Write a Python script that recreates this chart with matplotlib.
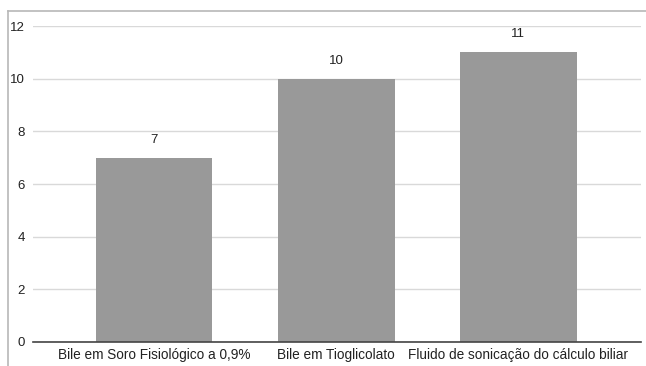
import matplotlib.pyplot as plt
import numpy as np

categories = ["Bile em Soro Fisiológico a 0,9%", "Bile em Tioglicolato",
              "Fluido de sonicação do cálculo biliar"]
values = [7, 10, 11]
yticks = [0, 2, 4, 6, 8, 10, 12]

plt.rcParams['font.family'] = ['Liberation Sans', 'DejaVu Sans']

fig = plt.figure(figsize=(6.46, 3.66), dpi=100)

# Outer frame: grey line on the top and left edges
fig.add_artist(plt.Line2D([8 / 646, 646 / 646], [1 - 11 / 366, 1 - 11 / 366],
                          color="#b8b8b8", linewidth=1.2, transform=fig.transFigure))
fig.add_artist(plt.Line2D([8 / 646, 8 / 646], [0, 1 - 11 / 366],
                          color="#b8b8b8", linewidth=1.2, transform=fig.transFigure))

ax = fig.add_axes([33 / 646, 24 / 366, 608 / 646, 316 / 366])

x = np.arange(len(categories))
ax.bar(x, values, width=0.64, color="#999999", zorder=3)

for xi, v in zip(x, values):
    ax.text(xi, v + 0.45, str(v), ha="center", va="bottom", fontsize=9.5, color="#222222")

ax.set_xlim(-0.666, 2.674)
ax.set_ylim(0, 12)
ax.set_yticks(yticks)
ax.set_xticks(x)
ax.set_xticklabels(categories, fontsize=9.8, color="#222222")
ax.tick_params(axis="y", length=0, pad=6, labelsize=9.5, labelcolor="#222222")
ax.tick_params(axis="x", length=0, pad=4)

ax.yaxis.grid(True, color="#d9d9d9", linewidth=1, zorder=0)
ax.set_axisbelow(True)
for side in ["top", "right", "left"]:
    ax.spines[side].set_visible(False)
ax.spines["bottom"].set_color("#444444")
ax.spines["bottom"].set_linewidth(1.2)
ax.spines["bottom"].set_zorder(4)

plt.savefig("out.png", dpi=100)
plt.close(fig)
